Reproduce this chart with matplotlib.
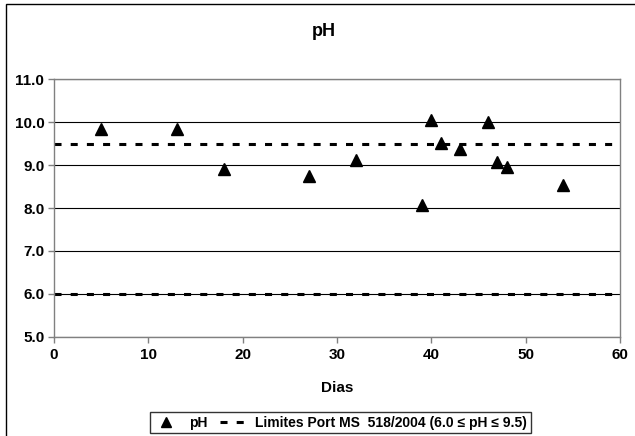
import matplotlib
matplotlib.use('Agg')
import matplotlib.pyplot as plt
from matplotlib.patches import Rectangle
from matplotlib.lines import Line2D

plt.rcParams['font.family'] = ['Liberation Sans', 'DejaVu Sans']
plt.rcParams['font.weight'] = 'bold'

# dados
dias = [5, 13, 18, 27, 32, 39, 40, 41, 43, 46, 47, 48, 54]
ph = [9.85, 9.85, 8.9, 8.75, 9.12, 8.07, 10.05, 9.52, 9.37, 10.0, 9.08, 8.95, 8.54]
limite_inf = 6.0
limite_sup = 9.5
x_limites = [0, 60]
y_ticks = [5.0, 6.0, 7.0, 8.0, 9.0, 10.0, 11.0]
x_ticks = [0, 10, 20, 30, 40, 50, 60]

fig = plt.figure(figsize=(6.35, 4.36), dpi=100)
ax = fig.add_axes([54 / 635, 1 - 336.7 / 436, (620 - 54) / 635, (336.7 - 79.3) / 436])

for y in y_ticks:
    ax.axhline(y, color='black', lw=0.8, zorder=1)

dash = (0, (2.3, 3.0))
ax.plot(x_limites, [limite_sup, limite_sup], color='black', lw=2.2, linestyle=dash, zorder=2)
ax.plot(x_limites, [limite_inf, limite_inf], color='black', lw=2.2, linestyle=dash, zorder=2)
ax.plot(dias, ph, linestyle='none', marker='^', color='black', markersize=8, zorder=3)

ax.set_xlim(0, 60)
ax.set_ylim(5, 11)
ax.set_xticks(x_ticks)
ax.set_yticks(y_ticks)
ax.set_yticklabels(['%.1f' % v for v in y_ticks])
ax.tick_params(axis='both', labelsize=11, length=4, color='#808080', width=1, pad=3)
ax.tick_params(axis='x', pad=4)
for s in ax.spines.values():
    s.set_color('#808080')
    s.set_linewidth(1)
ax.set_xlabel('Dias', fontsize=11, fontweight='bold', labelpad=14)

fig.text(324 / 635, 1 - 31 / 436, 'pH', ha='center', va='center', fontsize=13, fontweight='bold')

handles = [
    Line2D([], [], linestyle='none', marker='^', color='black', markersize=7),
    Line2D([], [], color='black', lw=2.2, linestyle=dash),
]
labels = ['pH', 'Limites Port MS  518/2004 (6.0 ≤ pH ≤ 9.5)']
leg = fig.legend(handles, labels, loc='center', bbox_to_anchor=(340.5 / 635, 1 - 422.5 / 436),
                 ncol=2, fontsize=10, frameon=True, fancybox=False, handlelength=1.75,
                 handletextpad=0.8, columnspacing=0.9, borderpad=0.25)
leg.get_frame().set_edgecolor('black')
leg.get_frame().set_linewidth(1)

border = Rectangle((6 / 635, -0.1), 1.2, 1 - 4 / 436 + 0.1, transform=fig.transFigure,
                   fill=False, edgecolor='black', lw=1, clip_on=False)
fig.patches.append(border)

fig.savefig('out.png', dpi=100)
